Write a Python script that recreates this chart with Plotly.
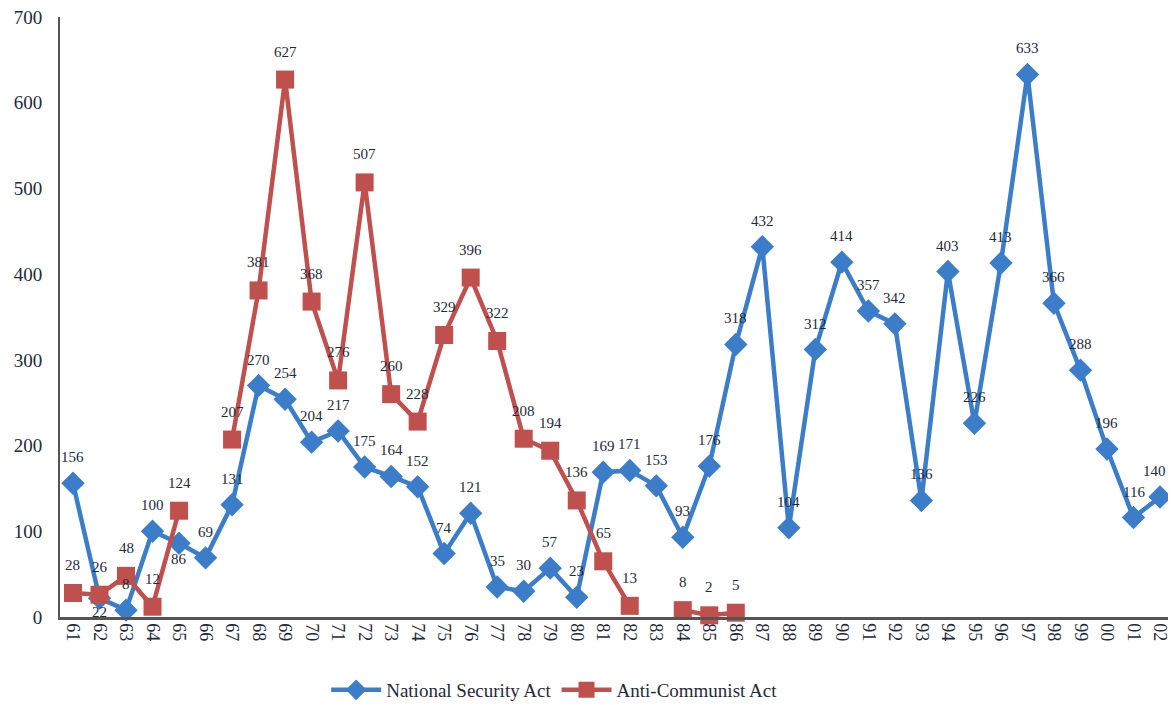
import plotly.graph_objects as go

years = ["61","62","63","64","65","66","67","68","69","70","71","72","73","74","75","76","77","78","79","80",
         "81","82","83","84","85","86","87","88","89","90","91","92","93","94","95","96","97","98","99","00","01","02"]
national_security = [156,22,8,100,86,69,131,270,254,204,217,175,164,152,74,121,35,30,57,23,
                     169,171,153,93,176,318,432,104,312,414,357,342,136,403,226,413,633,366,288,196,116,140]
anti_communist = [28,26,48,12,124,None,207,381,627,368,276,507,260,228,329,396,322,208,194,136,
                  65,13,None,8,2,5] + [None]*16

BLUE = "#3b7dc8"
RED = "#c0504d"
TXT = "#1f2a3a"

fig = go.Figure()
fig.add_trace(go.Scatter(
    x=years, y=national_security, name="National Security Act",
    mode="lines+markers",
    line=dict(color=BLUE, width=4.5), marker=dict(symbol="diamond", size=18, color=BLUE),
    cliponaxis=False,
))
fig.add_trace(go.Scatter(
    x=years, y=anti_communist, name="Anti-Communist Act",
    mode="lines+markers",
    line=dict(color=RED, width=4.5), marker=dict(symbol="square", size=18, color=RED),
    connectgaps=False, cliponaxis=False,
))

# data labels (x given as category index so labels like "00" are not misread)
below_nsa = {"62": -14, "65": -16}
xshift_nsa = {"02": -6}
for i, (yr, v) in enumerate(zip(years, national_security)):
    fig.add_annotation(x=i, y=v, text=str(v), showarrow=False,
                       yshift=below_nsa.get(yr, 26), xshift=xshift_nsa.get(yr, 0),
                       font=dict(family="Liberation Serif", size=15, color=TXT))
for i, v in enumerate(anti_communist):
    if v is None:
        continue
    fig.add_annotation(x=i, y=v, text=str(v), showarrow=False, yshift=28,
                       font=dict(family="Liberation Serif", size=15, color=TXT))

fig.update_layout(
    width=1166, height=696,
    margin=dict(l=52, r=1, t=9, b=87, autoexpand=False),
    plot_bgcolor="white", paper_bgcolor="white",
    font=dict(family="Liberation Serif", color=TXT),
    showlegend=True,
    legend=dict(orientation="h", x=0.444, xanchor="center", y=-0.1217, yanchor="middle",
                font=dict(family="Liberation Serif", size=19, color=TXT),
                itemwidth=50, traceorder="normal"),
)
fig.update_xaxes(
    type="category", range=[-0.49, 41.49], tickangle=90, automargin=False,
    showline=True, linecolor="#555555", linewidth=2.5, showgrid=False,
    ticks="", ticklabeloverflow="allow",
    tickfont=dict(family="Liberation Serif", size=18, color=TXT),
)
fig.update_yaxes(
    range=[0, 700], dtick=100, tick0=0, automargin=False,
    showline=True, linecolor="#555555", linewidth=2, showgrid=False, zeroline=False,
    ticks="", ticklabelstandoff=12, ticklabeloverflow="allow",
    tickfont=dict(family="Liberation Serif", size=19, color=TXT),
)

fig.write_html("out.html")
